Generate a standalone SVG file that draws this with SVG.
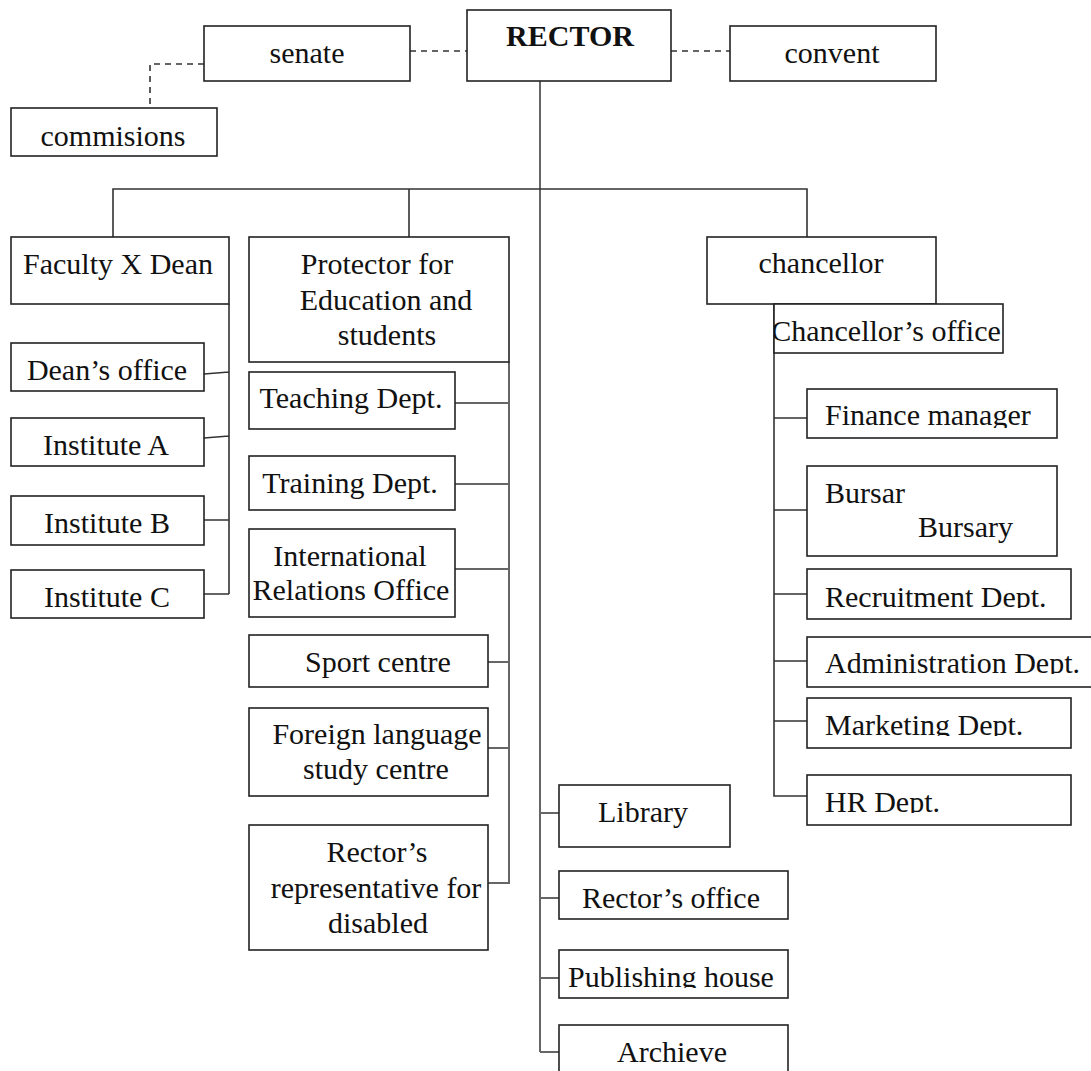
<svg xmlns="http://www.w3.org/2000/svg" width="1091" height="1071" viewBox="0 0 1091 1071">
<style>
.box{fill:#fff;stroke:#222;stroke-width:1.6}
.t{font-family:"Liberation Serif","Times New Roman",serif;font-size:30px;fill:#111}
.c{text-anchor:middle}
.b{font-weight:bold}
.ln{fill:none;stroke:#333;stroke-width:1.6}
.tr{fill:none;stroke:#666;stroke-width:2}
.ds{fill:none;stroke:#333;stroke-width:1.6;stroke-dasharray:6,5}
</style>
<defs>
<clipPath id="cpCO"><rect x="774" y="304" width="229" height="49"/></clipPath>
<clipPath id="cpFM"><rect x="807" y="389" width="250" height="39"/></clipPath>
<clipPath id="cpRD"><rect x="807" y="569" width="264" height="39"/></clipPath>
<clipPath id="cpAD"><rect x="807" y="637" width="284" height="37"/></clipPath>
<clipPath id="cpMD"><rect x="807" y="698" width="264" height="38"/></clipPath>
<clipPath id="cpHR"><rect x="807" y="775" width="264" height="38"/></clipPath>
<clipPath id="cpPH"><rect x="559" y="950" width="229" height="38"/></clipPath>
</defs>
<rect width="1091" height="1071" fill="#fff"/>
<g id="connectors">
<path class="ds" d="M410 51H467M671 51H730M204 64H150V108"/>
<path class="tr" d="M540 81V1052"/>
<path class="ln" d="M113 237V189H807V237M409 189V237"/>
<path class="ln" d="M229 304V594M204 374L229 372M204 438L229 436M204 520H229M204 594H229"/>
<path class="tr" d="M509 362V883H482M455 403H509M455 484H509M452 569H509M488 662H509M488 748H509"/>
<path class="ln" d="M774 304V796H807M774 418H807M774 510H807M774 594H807M774 661H807M774 721H807"/>
<path class="tr" d="M540 813H559M540 898H559M540 978H559M540 1052H559"/>
</g>
<g id="rector"><rect class="box" x="467" y="10" width="204" height="71"/><text class="t c b" x="570" y="46">RECTOR</text></g>
<g id="senate"><rect class="box" x="204" y="26" width="206" height="55"/><text class="t c" x="307" y="63">senate</text></g>
<g id="convent"><rect class="box" x="730" y="26" width="206" height="55"/><text class="t c" x="832" y="63">convent</text></g>
<g id="commisions"><rect class="box" x="11" y="108" width="206" height="48"/><text class="t c" x="113" y="146">commisions</text></g>
<g id="faculty"><rect class="box" x="11" y="237" width="218" height="67"/><text class="t c" x="118" y="274">Faculty X Dean</text></g>
<g id="deans-office"><rect class="box" x="11" y="343" width="193" height="48"/><text class="t c" x="107" y="380">Dean’s office</text></g>
<g id="institute-a"><rect class="box" x="11" y="418" width="193" height="48"/><text class="t c" x="106" y="455">Institute A</text></g>
<g id="institute-b"><rect class="box" x="11" y="496" width="193" height="49"/><text class="t c" x="107" y="533">Institute B</text></g>
<g id="institute-c"><rect class="box" x="11" y="570" width="193" height="48"/><text class="t c" x="107" y="607">Institute C</text></g>
<g id="protector"><rect class="box" x="249" y="237" width="260" height="125"/><text class="t c" x="377" y="274">Protector for</text><text class="t c" x="386" y="310">Education and</text><text class="t c" x="387" y="345">students</text></g>
<g id="teaching"><rect class="box" x="249" y="372" width="206" height="57"/><text class="t c" x="351" y="408">Teaching Dept.</text></g>
<g id="training"><rect class="box" x="249" y="456" width="206" height="54"/><text class="t c" x="350" y="493">Training Dept.</text></g>
<g id="international"><rect class="box" x="249" y="529" width="206" height="88"/><text class="t c" x="350" y="566">International</text><text class="t c" x="351" y="600">Relations Office</text></g>
<g id="sport"><rect class="box" x="249" y="635" width="239" height="52"/><text class="t c" x="378" y="672">Sport centre</text></g>
<g id="foreign"><rect class="box" x="249" y="708" width="239" height="88"/><text class="t c" x="377" y="744">Foreign language</text><text class="t c" x="376" y="779">study centre</text></g>
<g id="disabled"><rect class="box" x="249" y="825" width="239" height="125"/><text class="t c" x="377" y="862">Rector’s</text><text class="t c" x="376" y="898">representative for</text><text class="t c" x="378" y="933">disabled</text></g>
<g id="chancellor"><rect class="box" x="707" y="237" width="229" height="67"/><text class="t c" x="821" y="273">chancellor</text></g>
<g id="chancellors-office"><rect class="box" x="774" y="304" width="229" height="49"/><text class="t c" x="886" y="341" clip-path="url(#cpCO)">Chancellor’s office</text></g>
<g id="finance"><rect class="box" x="807" y="389" width="250" height="49"/><text class="t" x="825" y="425" clip-path="url(#cpFM)">Finance manager</text></g>
<g id="bursar"><rect class="box" x="807" y="466" width="250" height="90"/><text class="t" x="825" y="503">Bursar</text><text class="t" x="918" y="537">Bursary</text></g>
<g id="recruitment"><rect class="box" x="807" y="569" width="264" height="50"/><text class="t" x="825" y="607" clip-path="url(#cpRD)">Recruitment Dept.</text></g>
<g id="administration"><rect class="box" x="807" y="637" width="290" height="50"/><text class="t" x="825" y="673" clip-path="url(#cpAD)">Administration Dept.</text></g>
<g id="marketing"><rect class="box" x="807" y="698" width="264" height="50"/><text class="t" x="825" y="735" clip-path="url(#cpMD)">Marketing Dept.</text></g>
<g id="hr"><rect class="box" x="807" y="775" width="264" height="50"/><text class="t" x="825" y="812" clip-path="url(#cpHR)">HR Dept.</text></g>
<g id="library"><rect class="box" x="559" y="785" width="171" height="62"/><text class="t c" x="643" y="822">Library</text></g>
<g id="rectors-office"><rect class="box" x="559" y="871" width="229" height="48"/><text class="t c" x="671" y="908">Rector’s office</text></g>
<g id="publishing"><rect class="box" x="559" y="950" width="229" height="48"/><text class="t c" x="671" y="987" clip-path="url(#cpPH)">Publishing house</text></g>
<g id="archieve"><rect class="box" x="559" y="1025" width="229" height="60"/><text class="t c" x="672" y="1062">Archieve</text></g>
</svg>
